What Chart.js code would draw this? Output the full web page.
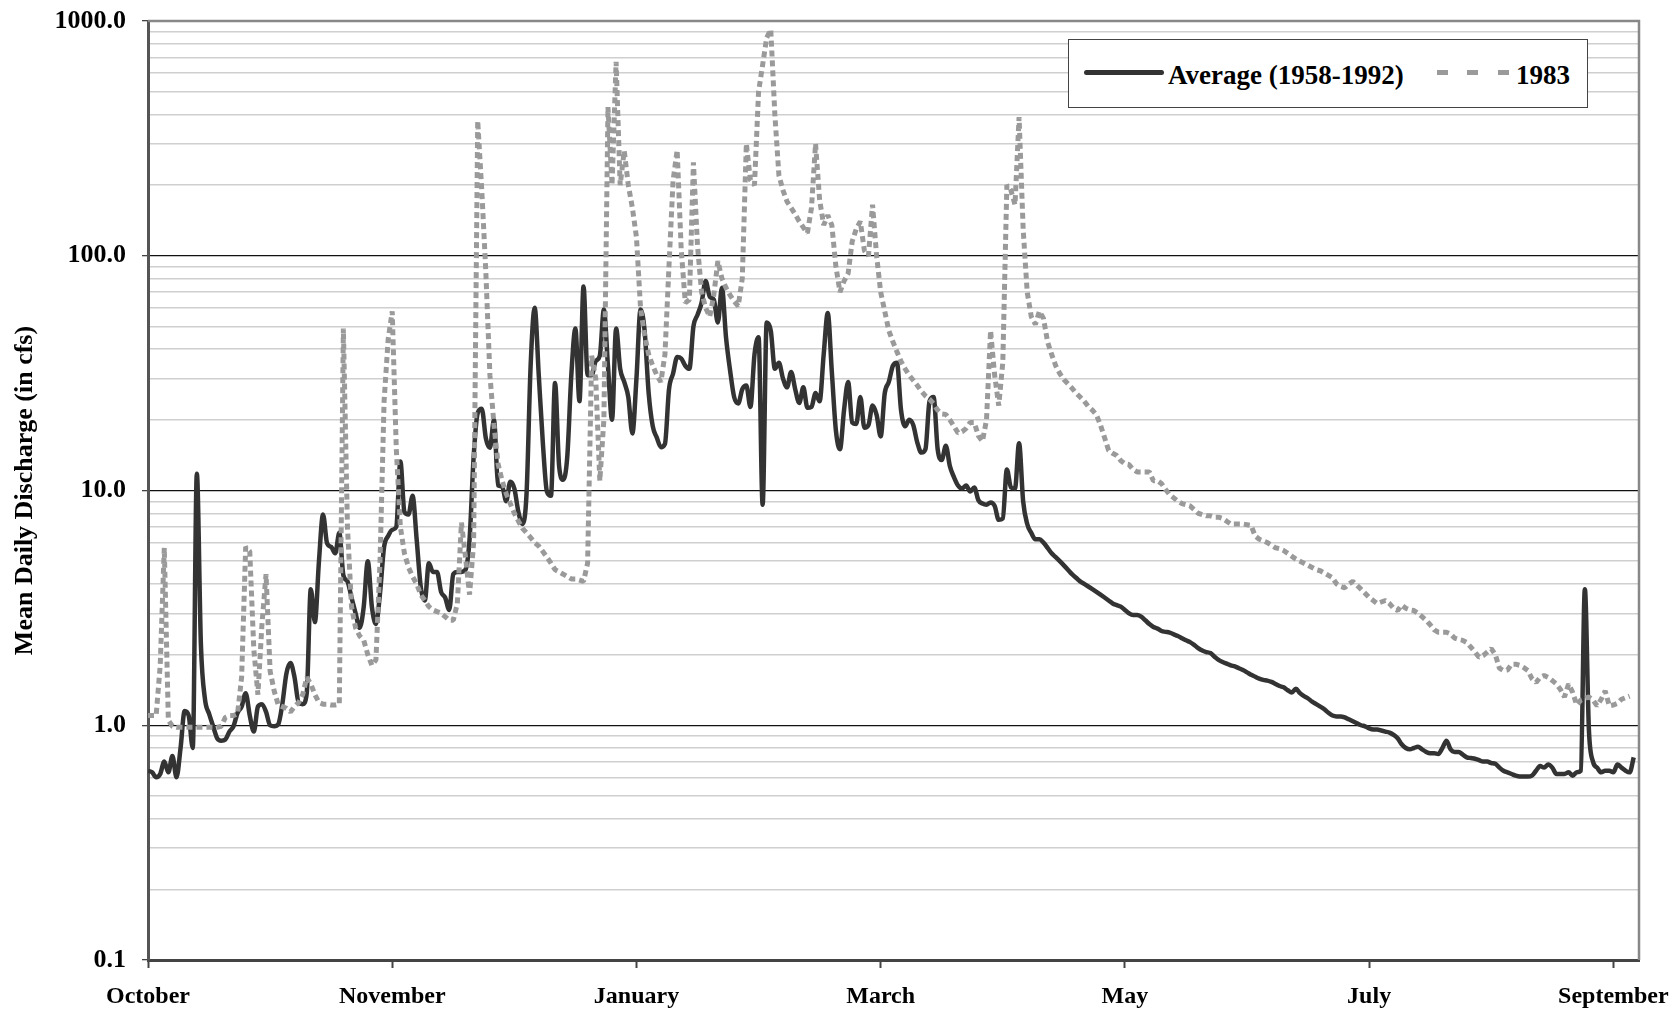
<!DOCTYPE html>
<html>
<head>
<meta charset="utf-8">
<script src="https://cdn.jsdelivr.net/npm/chart.js@4"></script>
<style>
  html, body { margin: 0; padding: 0; background: #fff; }
  #wrap { position: relative; width: 1678px; height: 1011px; }
  #graf { position: absolute; left: 0; top: 0; }
  .legend-boks { position: absolute; left: 1068px; top: 39px; width: 520px; height: 69px; box-sizing: border-box; border: 1.5px solid #444; background: #fff; }
  .legend-linje { position: absolute; left: 1084px; top: 70px; width: 80px; height: 5px; border-radius: 2.5px; background: #333; }
  .legend-prik { position: absolute; top: 70px; width: 11px; height: 5px; background: #9a9a9a; }
  .legend-tekst { position: absolute; top: 60px; line-height: 27px; font: bold 27px "Liberation Serif", "Times New Roman", serif; color: #000; white-space: nowrap; }
</style>
</head>
<body>
<div id="wrap">
  <canvas id="graf" width="1678" height="1011"></canvas>
  <div class="legend-boks"></div>
  <div class="legend-linje"></div>
  <div class="legend-tekst" style="left:1168px">Average (1958-1992)</div>
  <div class="legend-prik" style="left:1437px"></div>
  <div class="legend-prik" style="left:1467px"></div>
  <div class="legend-prik" style="left:1498px"></div>
  <div class="legend-tekst" style="left:1516px">1983</div>
</div>
<script>
"use strict";

// day of the water year, 0 = 1 October
const days = Array.from({ length: 366 }, (_, i) => i);

const xTickDays   = [0, 60, 120, 180, 240, 300, 360];
const xTickLabels = ["October", "November", "January", "March", "May", "July", "September"];

const yDecades    = [0.1, 1, 10, 100, 1000];
const yTickLabels = ["0.1", "1.0", "10.0", "100.0", "1000.0"];
const yMinorSteps = [2, 3, 4, 5, 6, 7, 8, 9];

// mean daily discharge (cfs), average 1958-1992
const avgFlow = [
  0.64, 0.63, 0.60, 0.62, 0.70, 0.63, 0.74, 0.60, 0.80, 1.15,
  1.10, 0.80, 11.8, 2.2, 1.29, 1.12, 0.99, 0.88, 0.86, 0.87,
  0.94, 0.99, 1.13, 1.20, 1.37, 1.10, 0.94, 1.20, 1.23, 1.14,
  1.00, 0.99, 1.01, 1.23, 1.66, 1.84, 1.60, 1.25, 1.23, 1.37,
  3.8, 2.75, 5.0, 7.9, 5.95, 5.75, 5.4, 6.6, 4.35, 4.1,
  3.5, 3.0, 2.6, 3.2, 5.0, 3.2, 2.7, 3.65, 5.75, 6.4,
  6.8, 7.0, 13.3, 8.1, 7.9, 9.5, 6.2, 3.9, 3.4, 4.9,
  4.5, 4.5, 3.7, 3.5, 3.1, 4.4, 4.5, 4.5, 4.6, 6.2,
  13.9, 21.4, 22.3, 16.7, 15.2, 20.0, 10.5, 10.4, 9.0, 10.9,
  10.2, 8.1, 7.2, 9.7, 34, 60, 31, 16, 9.9, 9.5,
  28.7, 12.7, 11.1, 13.9, 31, 49, 24, 74, 31, 31,
  35.6, 37.5, 59, 34, 20, 49, 33, 29, 25, 17.5,
  30, 59, 48, 26, 18.8, 16.8, 15.3, 15.8, 27, 31.5,
  37, 36.5, 34, 33, 50, 56, 63, 78, 67, 65,
  52, 73, 45, 32.5, 25, 23.5, 27, 28, 22.7, 38,
  45, 8.7, 52, 48, 33, 35, 30, 27.5, 32, 27,
  23.6, 27.5, 22.5, 22.7, 26, 24, 38, 57, 32, 18,
  15, 22, 29, 19.5, 19.2, 25, 18.5, 19, 23, 21,
  17, 26, 29, 34, 35, 22, 18.8, 20, 19, 16,
  14.5, 15, 24, 25, 15, 13.5, 15.5, 12.7, 11.4, 10.5,
  10.2, 10.5, 9.9, 10.3, 9.1, 8.8, 8.7, 8.9, 8.6, 7.5,
  7.6, 12.3, 10.3, 10.2, 15.9, 9.0, 7.2, 6.6, 6.2, 6.2,
  6.0, 5.7, 5.4, 5.2, 5.0, 4.8, 4.6, 4.4, 4.25, 4.1,
  4.0, 3.9, 3.8, 3.7, 3.6, 3.5, 3.4, 3.3, 3.25, 3.2,
  3.1, 3.0, 2.95, 2.95, 2.9, 2.8, 2.7, 2.62, 2.58, 2.52,
  2.5, 2.48, 2.44, 2.4, 2.35, 2.3, 2.26, 2.2, 2.13, 2.08,
  2.05, 2.03, 1.96, 1.9, 1.86, 1.83, 1.8, 1.78, 1.75, 1.72,
  1.68, 1.64, 1.61, 1.58, 1.56, 1.55, 1.53, 1.5, 1.47, 1.45,
  1.41, 1.38, 1.43, 1.37, 1.33, 1.3, 1.26, 1.23, 1.2, 1.17,
  1.13, 1.1, 1.09, 1.09, 1.08, 1.06, 1.04, 1.02, 1.0, 0.99,
  0.97, 0.96, 0.96, 0.95, 0.94, 0.93, 0.91, 0.88, 0.83, 0.80,
  0.79, 0.80, 0.81, 0.79, 0.77, 0.76, 0.76, 0.755, 0.80, 0.86,
  0.79, 0.77, 0.77, 0.75, 0.73, 0.725, 0.72, 0.71, 0.70, 0.70,
  0.69, 0.685, 0.66, 0.64, 0.63, 0.62, 0.61, 0.605, 0.605, 0.605,
  0.61, 0.64, 0.67, 0.66, 0.68, 0.66, 0.62, 0.62, 0.62, 0.63,
  0.61, 0.63, 0.64, 3.8, 0.95, 0.70, 0.66, 0.63, 0.64, 0.64,
  0.63, 0.68, 0.66, 0.64, 0.63, 0.73
];

// mean daily discharge (cfs), water year 1983
const flow1983 = [
  1.1, 1.1, 1.1, 1.8, 5.7, 1.05, 0.99, 0.98, 0.98, 0.98,
  0.98, 0.98, 0.98, 0.98, 0.98, 0.98, 0.98, 0.98, 0.99, 1.08,
  1.1, 1.1, 1.12, 1.6, 5.75, 5.5, 2.1, 1.35, 2.7, 4.4,
  1.7, 1.4, 1.22, 1.2, 1.18, 1.14, 1.2, 1.25, 1.35, 1.6,
  1.5, 1.35, 1.25, 1.23, 1.23, 1.22, 1.22, 1.23, 49, 7.0,
  3.2, 2.6, 2.4, 2.3, 2.0, 1.8, 1.9, 5.0, 24, 44,
  58, 15, 7.0, 5.4, 4.7, 4.3, 4.0, 3.6, 3.4, 3.2,
  3.1, 3.05, 3.0, 2.9, 2.8, 2.8, 3.3, 7.3, 5.2, 3.6,
  6.0, 376, 190, 85, 31, 19, 13, 11, 9.7, 8.8,
  8.0, 7.4, 6.9, 6.6, 6.3, 6.0, 5.8, 5.5, 5.2, 4.9,
  4.6, 4.5, 4.4, 4.3, 4.2, 4.2, 4.15, 4.1, 4.9, 37.5,
  30, 11, 20, 430, 200, 670, 200, 280, 200, 160,
  120, 60, 46, 38, 34, 31, 29, 38, 91, 209,
  282, 106, 63, 65, 250, 110, 70, 60, 55, 68,
  95, 80, 73, 68, 64, 61, 80, 300, 210, 200,
  500, 650, 850, 920, 400, 220, 190, 170, 160, 150,
  140, 132, 125, 160, 300, 173, 135, 149, 135, 90,
  70, 78, 84, 115, 130, 140, 105, 100, 165, 100,
  70, 58, 48, 43, 39, 35.5, 33, 31, 29.5, 28,
  26.5, 25.3, 24.5, 23.4, 22, 21.2, 21.1, 20, 18.8, 17.6,
  17.8, 18.4, 19.5, 19.5, 17.1, 16.2, 20, 48, 31, 23,
  35, 200, 190, 165, 390, 130, 70, 55, 51, 58,
  54, 43, 38, 34, 31.5, 29.7, 28.5, 27.3, 26, 25,
  24, 22.8, 22, 21, 19, 16.8, 14.8, 14.4, 14.1, 13.4,
  13.0, 12.9, 12.3, 12, 12, 12, 12, 11, 11, 10.7,
  10.1, 9.6, 9.3, 9.0, 8.8, 8.7, 8.6, 8.3, 8.0, 7.9,
  7.8, 7.8, 7.7, 7.7, 7.6, 7.4, 7.2, 7.2, 7.2, 7.2,
  7.15, 7.1, 6.4, 6.2, 6.1, 6.0, 5.85, 5.7, 5.65, 5.55,
  5.4, 5.25, 5.1, 5.0, 4.9, 4.8, 4.7, 4.6, 4.55, 4.45,
  4.35, 4.25, 4.0, 3.9, 3.85, 4.0, 4.1, 3.95, 3.8, 3.65,
  3.5, 3.4, 3.3, 3.35, 3.4, 3.3, 3.15, 3.08, 3.25, 3.15,
  3.1, 3.08, 3.0, 2.9, 2.8, 2.68, 2.55, 2.49, 2.49, 2.49,
  2.45, 2.35, 2.32, 2.3, 2.25, 2.15, 2.05, 1.95, 1.98, 2.05,
  2.12, 2.0, 1.75, 1.71, 1.72, 1.82, 1.82, 1.8, 1.76, 1.71,
  1.58, 1.52, 1.6, 1.63, 1.6, 1.55, 1.5, 1.42, 1.32, 1.5,
  1.38, 1.22, 1.28, 1.3, 1.32, 1.28, 1.21, 1.29, 1.4, 1.21,
  1.22, 1.24, 1.29, 1.31, 1.33
];

const fontFamily = '"Liberation Serif", "Times New Roman", serif';

const yGridValues = [];
yDecades.forEach(d => {
  yGridValues.push(d);
  if (d < 1000) yMinorSteps.forEach(m => yGridValues.push(Number((m * d).toPrecision(3))));
});

function isDecade(v) {
  const l = Math.log10(v);
  return Math.abs(l - Math.round(l)) < 1e-6;
}

function toPoints(values) {
  return values.map((v, i) => ({ x: days[i], y: v }));
}

// top and right edge of the plot box
const plotFrame = {
  id: "plotFrame",
  beforeDatasetsDraw(chart) {
    const { ctx, chartArea: a } = chart;
    ctx.save();
    ctx.strokeStyle = "#888";
    ctx.lineWidth = 2.5;
    ctx.beginPath();
    ctx.moveTo(a.left, a.top);
    ctx.lineTo(a.right, a.top);
    ctx.lineTo(a.right, a.bottom);
    ctx.stroke();
    ctx.restore();
  }
};

new Chart(document.getElementById("graf"), {
  type: "line",
  data: {
    datasets: [
      {
        label: "1983",
        data: toPoints(flow1983),
        borderColor: "#9a9a9a",
        borderWidth: 5,
        borderDash: [6, 4],
        borderCapStyle: "butt",
        borderJoinStyle: "bevel",
        pointRadius: 0,
        tension: 0,
        order: 1
      },
      {
        label: "Average (1958-1992)",
        data: toPoints(avgFlow),
        borderColor: "#333333",
        borderWidth: 4.5,
        borderJoinStyle: "round",
        cubicInterpolationMode: "monotone",
        pointRadius: 0,
        order: 2
      }
    ]
  },
  options: {
    responsive: false,
    animation: false,
    devicePixelRatio: 1,
    layout: { padding: { top: 21, right: 39, bottom: 0, left: 0 } },
    plugins: { legend: { display: false }, tooltip: { enabled: false } },
    scales: {
      x: {
        type: "linear",
        min: 0,
        max: 366.3,
        afterBuildTicks: s => { s.ticks = xTickDays.map(v => ({ value: v })); },
        afterFit: s => { s.height = 51; s.paddingLeft = 0; s.paddingRight = 0; },
        grid: { drawOnChartArea: false, tickLength: 8, tickColor: "#444", tickWidth: 2 },
        border: { color: "#444", width: 3 },
        ticks: {
          autoSkip: false,
          maxRotation: 0,
          padding: 14,
          color: "#000",
          font: { family: fontFamily, weight: "bold", size: 24 },
          callback: (v, i) => xTickLabels[i]
        }
      },
      y: {
        type: "logarithmic",
        min: 0.1,
        max: 1000,
        afterBuildTicks: s => { s.ticks = yGridValues.map(v => ({ value: v, major: isDecade(v) })); },
        afterFit: s => { s.width = 148; s.paddingTop = 0; s.paddingBottom = 0; },
        grid: {
          color: c => isDecade(c.tick.value) ? "#111" : "#cfcfcf",
          lineWidth: c => isDecade(c.tick.value) ? 1.3 : 1.4,
          tickLength: 6,
          tickColor: c => isDecade(c.tick.value) ? "#444" : "rgba(0,0,0,0)"
        },
        border: { color: "#555", width: 3 },
        ticks: {
          autoSkip: false,
          padding: 16,
          color: "#000",
          font: { family: fontFamily, weight: "bold", size: 26 },
          callback: v => isDecade(v) ? yTickLabels[Math.round(Math.log10(v)) + 1] : ""
        },
        title: {
          display: true,
          text: "Mean Daily Discharge (in cfs)",
          color: "#000",
          padding: { top: 10, bottom: 0 },
          font: { family: fontFamily, weight: "bold", size: 26 }
        }
      }
    }
  },
  plugins: [plotFrame]
});
</script>
</body>
</html>
